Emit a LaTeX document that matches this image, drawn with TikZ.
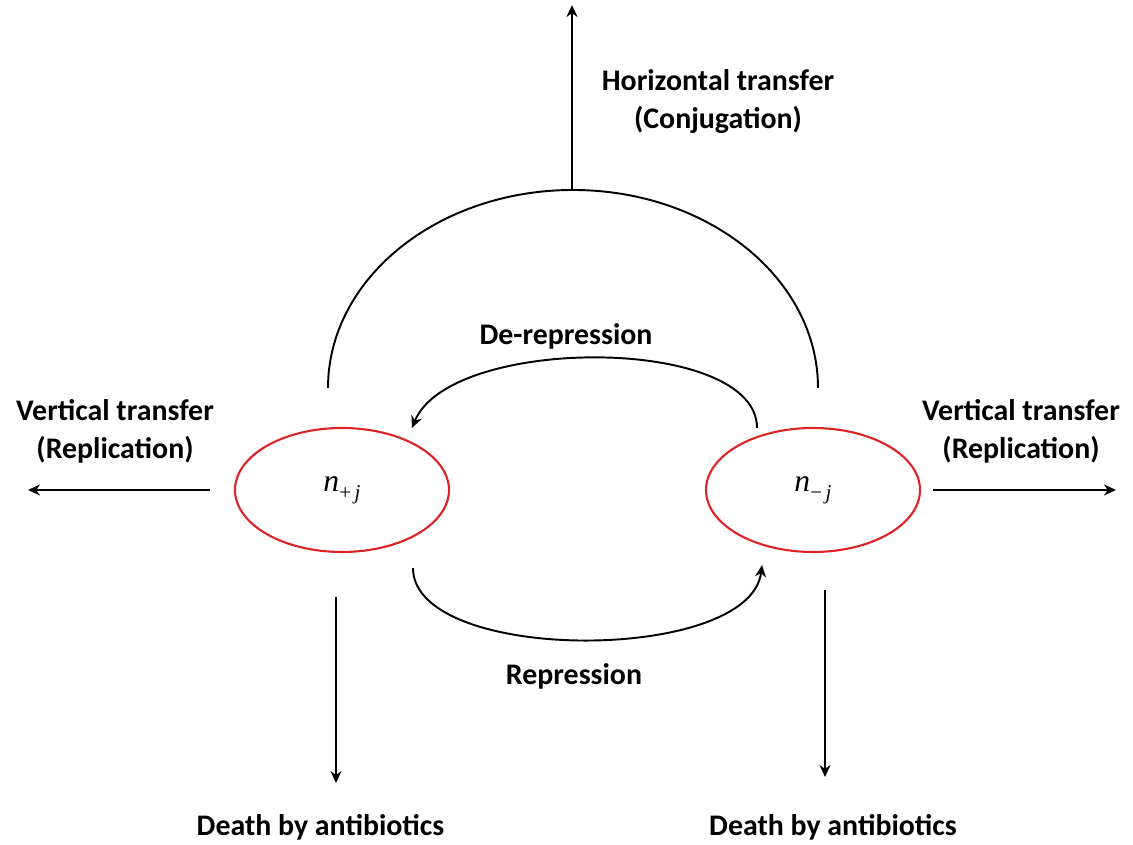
\documentclass[tikz,border=0pt]{standalone}
\usepackage{fontspec}
\setmainfont{Carlito}
\newfontfamily\tmsfont{Liberation Serif}
\usetikzlibrary{shapes.geometric,arrows.meta}
\definecolor{plred}{HTML}{DC2427}
\newcommand{\popname}[1]{{\tmsfont\itshape\fontsize{18}{18}\selectfont n\raisebox{-0.55ex}{\fontsize{12}{12}\selectfont{\upshape #1}\,j}}}

\begin{document}
\begin{tikzpicture}[
  pop/.style={ellipse,draw=plred,line width=1.2pt,minimum width=4.28cm,minimum height=2.48cm,inner sep=0pt},
  lbl/.style={font=\fontsize{17}{21.6}\selectfont\bfseries,align=center},
  arr/.style={-{Stealth[length=2.4mm,width=2.2mm]},line width=1.1pt}]
\useasboundingbox (0,0) rectangle (22.66,16.9);
% populations
\node[pop] (L) at (6.84,7.10) {\popname{+}};
\node[pop] (R) at (16.26,7.10) {\popname{\char"2212}};
% free ends
\coordinate (Ltop) at (6.56,9.14);
\coordinate (Rtop) at (16.36,9.14);
\coordinate (top) at (11.44,13.1);
\coordinate (up) at (11.44,16.8);
\coordinate (derF) at (15.14,8.34);
\coordinate (derT) at (8.24,8.34);
\coordinate (repF) at (8.26,5.54);
\coordinate (repT) at (15.24,5.60);
\coordinate (Lw) at (4.20,7.10);
\coordinate (Lout) at (0.56,7.10);
\coordinate (Re) at (18.66,7.10);
\coordinate (Rout) at (22.32,7.10);
\coordinate (Ls) at (6.72,4.96);
\coordinate (Ldie) at (6.72,1.24);
\coordinate (Rs) at (16.50,5.10);
\coordinate (Rdie) at (16.50,1.36);
% conjugation
\draw[line width=1.1pt] (Ltop) arc[start angle=180,end angle=0,x radius=4.9,y radius=3.96];
\draw[arr] (top) -- (up);
\node[lbl] (hor) at (14.36,14.86) {Horizontal transfer\\(Conjugation)};
% switching
\draw[arr] (derF) .. controls (15.14,10.2) and (9.0,10.2) .. (derT);
\node[lbl] (der) at (11.32,10.18) {De-repression};
\draw[arr] (repF) .. controls (8.26,3.62) and (15.0,3.62) .. (repT);
\node[lbl] (rep) at (11.48,3.38) {Repression};
% replication
\draw[arr] (Lw) -- (Lout);
\node[lbl] (vl) at (2.30,8.28) {Vertical transfer\\(Replication)};
\draw[arr] (Re) -- (Rout);
\node[lbl] (vr) at (20.42,8.28) {Vertical transfer\\(Replication)};
% death
\draw[arr] (Ls) -- (Ldie);
\node[lbl] (dl) at (6.41,0.36) {Death by antibiotics};
\draw[arr] (Rs) -- (Rdie);
\node[lbl] (dr) at (16.66,0.36) {Death by antibiotics};
\end{tikzpicture}
\end{document}
